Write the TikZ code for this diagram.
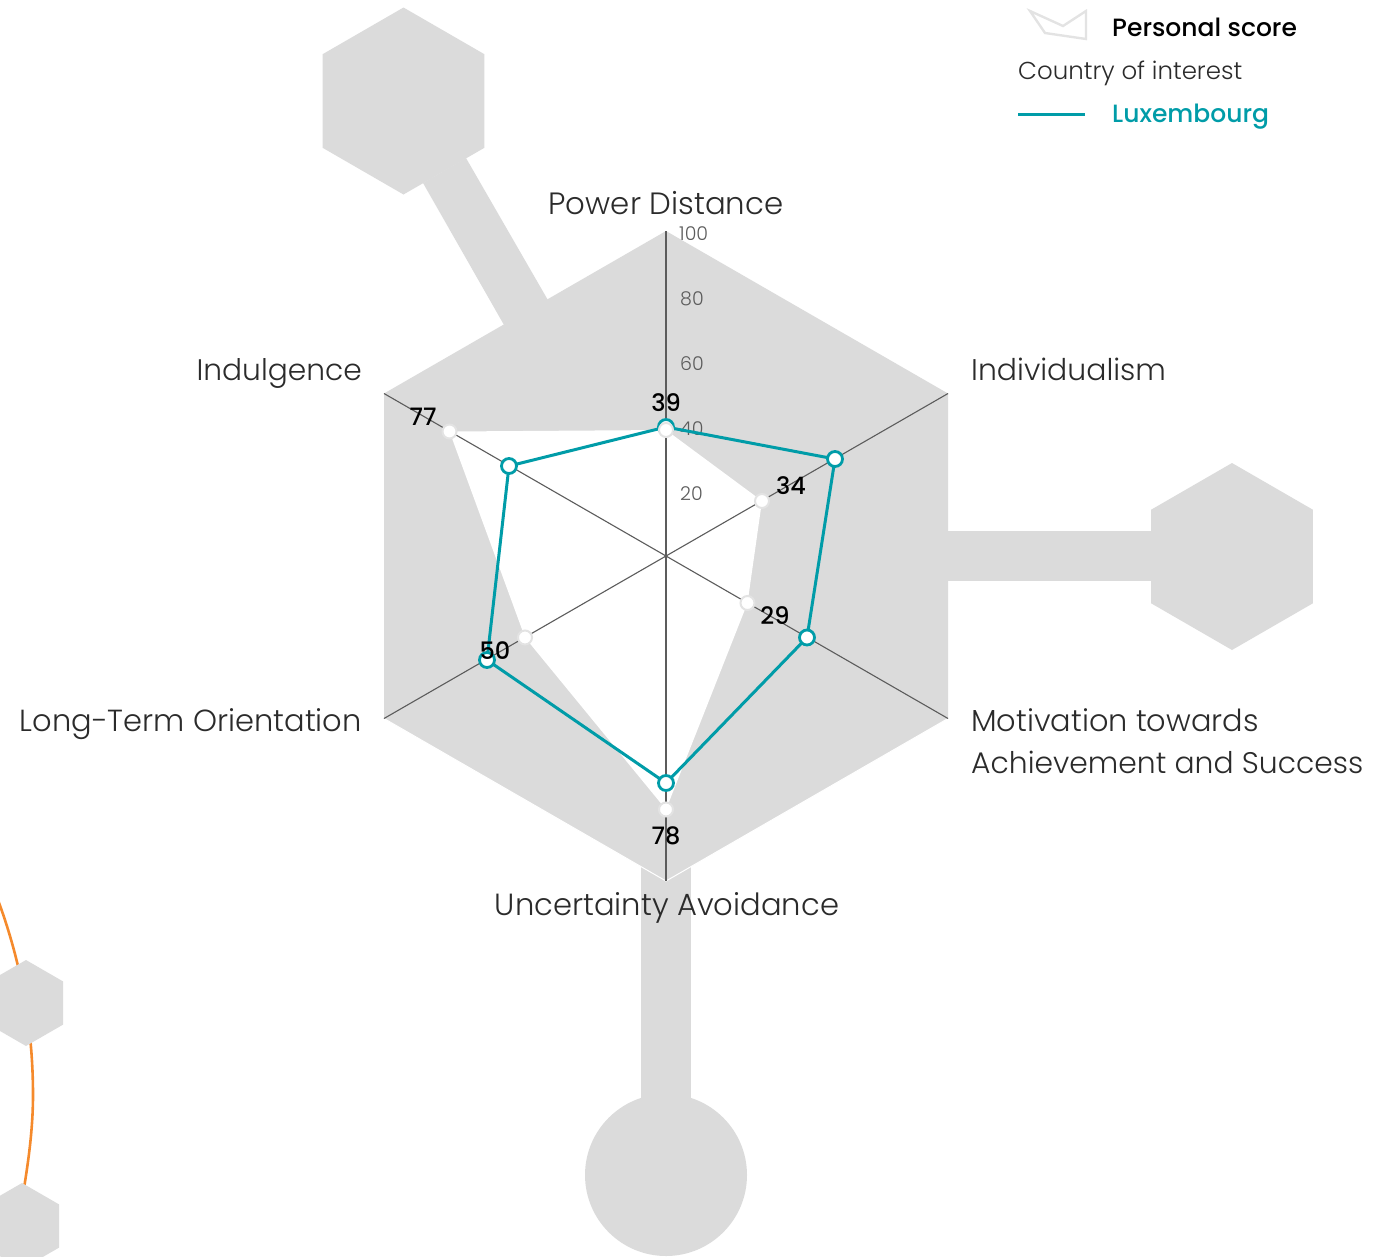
\documentclass[tikz,border=0pt]{standalone}
\usepackage{fontspec}
\setmainfont{Poppins Light}
\newfontfamily\medfont{Poppins Medium}
\definecolor{hexgrey}{HTML}{DBDBDB}
\definecolor{teal0}{HTML}{009CA8}
\definecolor{axisc}{HTML}{5C5C5C}
\definecolor{dotc}{HTML}{E3E3E3}
\definecolor{orange0}{HTML}{F58A2C}
\definecolor{labc}{HTML}{2B2B2B}
\tikzset{
 axisline/.style={draw=axisc,line width=1.1pt},
 tealline/.style={draw=teal0,line width=3pt,line join=round},
 tealdot/.style={circle,draw=teal0,fill=white,line width=2.8pt,minimum size=15pt,inner sep=0pt},
 whitedot/.style={circle,draw=dotc,fill=white,line width=2pt,minimum size=14pt,inner sep=0pt},
 axlabel/.style={font=\fontsize{#1}{42}\selectfont,text=labc,inner sep=0pt,align=left},
 ticklabel/.style={font=\fontsize{19}{22}\selectfont,text=axisc,inner sep=0pt},
 scorelabel/.style={font=\medfont\fontsize{24}{26}\selectfont,text=black,inner sep=0pt},
}
\begin{document}
\begin{tikzpicture}[x=1pt,y=-1pt]
\useasboundingbox (0,0) rectangle (1389,1256);
\def\hexag#1#2#3{(#1,#2-#3) -- (#1+0.866*#3,#2-0.5*#3) -- (#1+0.866*#3,#2+0.5*#3) -- (#1,#2+#3) -- (#1-0.866*#3,#2+0.5*#3) -- (#1-0.866*#3,#2-0.5*#3) -- cycle}
% orange arc
\draw[orange0,line width=2.6pt] (-2,900) .. controls (22,965) and (33,1030) .. (33,1095) .. controls (33,1130) and (28,1165) .. (22,1200);
\fill[hexgrey] \hexag{26}{1003}{43};
\fill[hexgrey] \hexag{22}{1226}{43};
% bottom connector and circle
\fill[hexgrey] (641,860) rectangle (691,1110);
\fill[hexgrey] (666,1175) circle (81);
% radar
\coordinate (c) at (666,556);
\coordinate (a1) at (666,231);
\coordinate (a2) at (948,393.5);
\coordinate (a3) at (948,718.5);
\coordinate (a4) at (666,881);
\coordinate (a5) at (384,718.5);
\coordinate (a6) at (384,393.5);
\fill[hexgrey] (a1) -- (a2) -- (a3) -- (a4) -- (a5) -- (a6) -- cycle;
\draw[white,line width=1pt] (a5) -- (a4) -- (a3);
% other connectors and satellites
\fill[hexgrey] (423,183) -- (466,158) -- (560,321) -- (516,346) -- cycle;
\fill[hexgrey] (930,531) rectangle (1160,581);
\fill[hexgrey] \hexag{403.5}{101}{93.5};
\fill[hexgrey] \hexag{1232}{556.5}{93.5};
% personal score
\coordinate (p1) at (666,430);
\coordinate (p2) at (762,501);
\coordinate (p3) at (747.5,603);
\coordinate (p4) at (666,809.5);
\coordinate (p5) at (525,637.5);
\coordinate (p6) at (449.5,431.5);
\fill[white] (p1) -- (p2) -- (p3) -- (p4) -- (p5) -- (p6) -- cycle;
% axes
\foreach \v in {a1,a2,a3,a4,a5,a6} \draw[axisline] (c) -- (\v);
% tick labels
\node[ticklabel,anchor=west] (t100) at (679,234) {100};
\node[ticklabel,anchor=west] (t80) at (680,299) {80};
\node[ticklabel,anchor=west] (t60) at (680,364) {60};
\node[ticklabel,anchor=west] (t40) at (680,429) {40};
\node[ticklabel,anchor=west] (t20) at (680,494) {20};
% personal dots
\foreach \p in {p2,p3,p4,p5,p6} \node[whitedot] at (\p) {};
% luxembourg
\coordinate (l1) at (666,427);
\coordinate (l2) at (835,459);
\coordinate (l3) at (807,637.5);
\coordinate (l4) at (666,783);
\coordinate (l5) at (487,660);
\coordinate (l6) at (509,466);
\draw[tealline] (l1) -- (l2) -- (l3) -- (l4) -- (l5) -- (l6) -- cycle;
\foreach \p in {l1,l2,l3,l4,l5,l6} \node[tealdot] at (\p) {};
\node[whitedot] at (p1) {};
% score labels
\node[scorelabel] (s1) at (666,403) {39};
\node[scorelabel] (s2) at (791,486) {34};
\node[scorelabel] (s3) at (775,616) {29};
\node[scorelabel] (s4) at (666,836) {78};
\node[scorelabel] (s5) at (495,651) {50};
\node[scorelabel] (s6) at (423,417) {77};
% axis labels
\node[axlabel=30.8,anchor=base] (n1) at (666,214) {Power Distance};
\node[axlabel=29.9,anchor=base west] (n2) at (971,380) {Individualism};
\node[axlabel=30.4,anchor=base west] (n3a) at (971,731) {Motivation towards};
\node[axlabel=29.8,anchor=base west] (n3b) at (971,773) {Achievement and Success};
\node[axlabel=30.6,anchor=base] (n4) at (667,915) {Uncertainty Avoidance};
\node[axlabel=30.5,anchor=base east] (n5) at (362,731) {Long-Term Orientation};
\node[axlabel=29.7,anchor=base east] (n6) at (362,380) {Indulgence};
% legend
\draw[dotc,line width=2.4pt,line join=miter] (1030,11) -- (1063,26) -- (1086,11) -- (1086,39) -- (1045,33) -- cycle;
\node[font=\medfont\fontsize{25}{28}\selectfont,anchor=base west,inner sep=0pt] (lg1) at (1112,36) {Personal score};
\node[font=\fontsize{24.5}{28}\selectfont,text=labc,anchor=base west,inner sep=0pt] (lg2) at (1018,79) {Country of interest};
\coordinate (lgs) at (1018,114);
\coordinate (lge) at (1085,114);
\draw[teal0,line width=3pt] (lgs) -- (lge);
\node[font=\medfont\fontsize{25}{28}\selectfont,text=teal0,anchor=base west,inner sep=0pt] (lg3) at (1112,122) {Luxembourg};
\end{tikzpicture}
\end{document}
